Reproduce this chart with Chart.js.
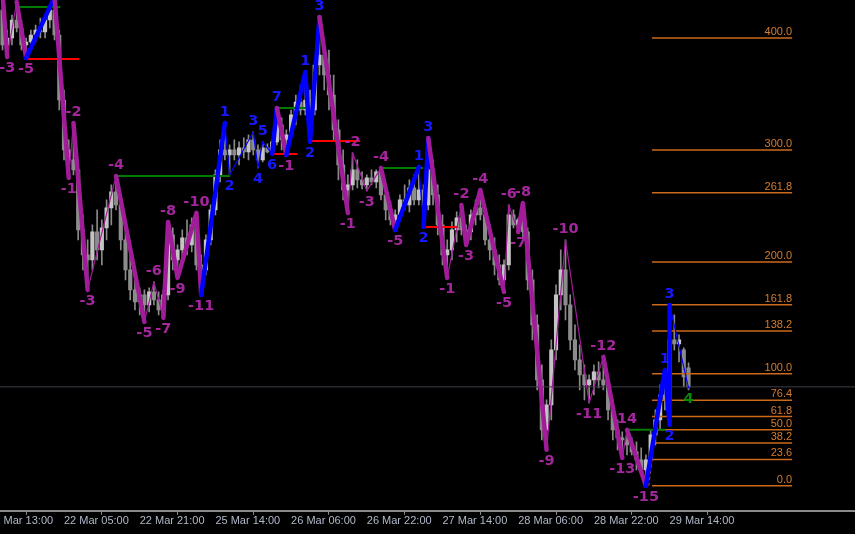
<!DOCTYPE html>
<html>
<head>
<meta charset="utf-8">
<script src="https://cdn.jsdelivr.net/npm/chart.js@4.4.1/dist/chart.umd.min.js"></script>
<style>
html,body{margin:0;padding:0;background:#000;}
#wrap{width:855px;height:534px;}
</style>
</head>
<body>
<div id="wrap"><canvas id="chart" width="855" height="534"></canvas></div>
<script>
// time axis (H1 bars, one label every 16 bars)
const timeLabels = ['21 Mar 13:00','22 Mar 05:00','22 Mar 21:00','25 Mar 14:00','26 Mar 06:00','26 Mar 22:00','27 Mar 14:00','28 Mar 06:00','28 Mar 22:00','29 Mar 14:00'];
const tickBars = [0,16,32,48,64,80,96,112,128,144];

// candles, bar 3 .. 148
const firstBar = 3;
const cOpen = [5290,5255,5262,5280,5272,5255,5258,5265,5270,5268,
  5280,5290,5265,5200,5150,5140,5130,5070,5045,5040,
  5068,5050,5072,5092,5108,5095,5060,5030,5010,4998,
  5005,4995,5008,5000,4990,5005,5065,5040,5050,5062,
  5055,5075,5035,5030,5060,5090,5125,5150,5145,5150,
  5145,5152,5148,5160,5150,5140,5152,5148,5158,5175,
  5160,5165,5185,5198,5190,5200,5190,5235,5245,5225,
  5205,5170,5135,5110,5115,5130,5120,5115,5122,5118,
  5128,5105,5090,5080,5085,5100,5095,5112,5100,5110,
  5095,5130,5105,5075,5045,5050,5070,5082,5070,5068,
  5085,5092,5085,5060,5050,5035,5020,5035,5085,5075,
  5080,5068,5020,4975,4920,4870,4895,4950,5005,5030,
  4995,4960,4940,4925,4915,4920,4928,4920,4915,4890,
  4870,4862,4860,4855,4848,4840,4830,4840,4865,4880,
  4905,4900,4960,4956,4950,4932];
const cHigh = [5308,5270,5285,5298,5280,5262,5270,5275,5282,5285,
  5295,5303,5270,5210,5160,5177,5140,5085,5060,5075,
  5090,5080,5100,5115,5124,5100,5075,5045,5020,5012,
  5010,5012,5018,5008,5010,5078,5072,5055,5070,5080,
  5082,5087,5045,5065,5095,5130,5160,5177,5155,5160,
  5158,5162,5165,5168,5155,5158,5156,5160,5192,5182,
  5170,5190,5205,5215,5228,5210,5240,5283,5260,5250,
  5225,5180,5150,5125,5147,5140,5128,5125,5130,5130,
  5132,5112,5098,5090,5105,5115,5120,5125,5133,5115,
  5162,5140,5115,5085,5060,5078,5088,5095,5075,5090,
  5100,5110,5090,5075,5062,5045,5040,5095,5090,5082,
  5097,5072,5030,4985,4935,4900,4960,5015,5050,5060,
  5005,4975,4955,4935,4925,4935,4938,4943,4925,4900,
  4880,4868,4870,4862,4858,4852,4845,4870,4890,4915,
  4930,4995,4985,4965,4952,4937];
const cLow = [5250,5243,5255,5268,5250,5242,5250,5258,5262,5262,
  5272,5260,5190,5140,5122,5125,5060,5030,5010,5030,
  5040,5035,5060,5075,5090,5050,5020,5000,4990,4985,
  4978,4988,4995,4985,4982,5000,5030,5022,5040,5045,
  5048,5030,5005,5025,5055,5085,5118,5140,5125,5140,
  5135,5142,5140,5145,5132,5138,5147,5146,5155,5150,
  5145,5160,5175,5185,5185,5158,5185,5225,5210,5190,
  5160,5120,5100,5087,5110,5112,5111,5109,5115,5112,
  5100,5080,5075,5070,5080,5090,5088,5095,5095,5073,
  5090,5095,5065,5035,5022,5040,5058,5065,5055,5060,
  5075,5080,5055,5040,5025,5015,5008,5030,5072,5068,
  5062,5010,4960,4910,4860,4850,4880,4940,4990,4980,
  4950,4930,4910,4900,4897,4905,4912,4910,4880,4860,
  4850,4842,4845,4845,4830,4825,4814,4835,4855,4870,
  4890,4875,4950,4938,4913,4910];
const cClose = [5255,5262,5280,5272,5255,5258,5265,5270,5268,5280,
  5290,5265,5200,5150,5140,5130,5070,5045,5040,5068,
  5050,5072,5092,5108,5095,5060,5030,5010,4998,5005,
  4995,5008,5000,4990,5005,5065,5040,5050,5062,5055,
  5075,5035,5030,5060,5090,5125,5150,5145,5150,5145,
  5152,5148,5160,5150,5140,5152,5148,5158,5175,5160,
  5165,5185,5198,5190,5200,5190,5235,5245,5225,5205,
  5170,5135,5110,5115,5130,5120,5115,5122,5118,5128,
  5105,5090,5080,5085,5100,5095,5112,5100,5110,5095,
  5130,5105,5075,5045,5050,5070,5082,5070,5068,5085,
  5092,5085,5060,5050,5035,5020,5035,5085,5075,5080,
  5068,5020,4975,4920,4870,4895,4950,5005,5030,4995,
  4960,4940,4925,4915,4920,4928,4920,4915,4890,4870,
  4862,4860,4855,4848,4840,4830,4840,4865,4880,4905,
  4900,4960,4956,4960,4923,4913];

// zigzag pivots
const zzBar = [3,4,6,8,14,17,18,21,27,33,35,37,38,40,44,45,50,51,56,57,
  58,60,61,63,67,68,70,76,77,80,83,86,91,92,93,97,100,101,104,109,
  110,112,113,118,122,127,130,134,135,139,143,144,144,148];
const zzPrice = [5308,5243,5298,5242,5303,5122,5177,5010,5124,4978,
  5018,4982,5078,5022,5087,5005,5177,5125,5168,5132,
  5158,5146,5192,5145,5228,5158,5283,5087,5147,5109,
  5132,5070,5133,5073,5162,5022,5095,5055,5110,5008,
  5095,5068,5097,4850,5060,4897,4943,4842,4870,4814,
  4930,4875,4995,4912];
const zzText = ['','-3','','-5','','-1','-2','-3','-4','-5','-6','-7','-8','-9','-10','-11',
  '1','2','3','4','5','6','7','-1','1','2','3',
  '-1','-2','-3','-4','-5','1','2','3',
  '-1','-2','-3','-4','-5','-6','-7','-8','-9','-10','-11','-12','-13','14','-15',
  '1','2','3','4'];
const zzTone = ['p','p','p','p','b','p','p','p','p','p','p','p','p','p','p','p',
  'b','b','b','b','b','b','b','p','b','b','b',
  'p','p','p','p','p','b','b','b',
  'p','p','p','p','p','p','p','p','p','p','p','p','p','p','p',
  'b','b','b','g'];
// leg width ending at each pivot: T thick, t thin
const zzLeg = ['','T','t','T','T','T','t','T','t','T','t','t','T','T','T','T',
  'T','t','t','t','t','t','T','T','T','T','T',
  'T','t','t','t','T','T','t','T',
  'T','t','T','T','T','t','t','T','T','t','t','t','T','t','T',
  'T','T','T','t'];

// breakout levels
const hlStart = [6,8,27,60,61,68,83,92,135];
const hlEnd = [15.2,19.2,51.1,65.3,68,78.6,91.9,99.3,143.1];
const hlPrice = [5293,5241,5124,5146,5192,5159,5132,5073,4870];
const hlTone = ['g','r','g','r','g','r','g','r','g'];

// fibonacci
const fibLevels = [0,23.6,38.2,50,61.8,76.4,100,138.2,161.8,200,261.8,300,400];
const fibLow = 4814, fibHigh = 4926;
const fibFrom = 140.3, fibTo = 169.9;
const fibAnchorBars = [139.6,142.6];

const bidPrice = 4913;

const colors = {p:'#a01c98', b:'#0000ff', g:'#007a00', r:'#ff0000'};
const textColors = {p:'#a4269c', b:'#1818ff', g:'#0a8a0a'};
const fibColor = '#cc6a1a';
const fibTextColor = '#d67c2c';

const fibPrice = l => fibLow + (fibHigh - fibLow) * l / 100;
const isHigh = i => i > 0 ? zzPrice[i] > zzPrice[i-1] : zzPrice[i] > zzPrice[i+1];

const wickData = cHigh.map((h,i)=>({x:firstBar+i, y:[cLow[i], h]}));
const bodyData = cOpen.map((o,i)=>({x:firstBar+i, y:[o, cClose[i]]}));
const bodyColors = cOpen.map((o,i)=> cClose[i] >= o ? '#c4c4c4' : '#8c8c8c');

const datasets = [];
datasets.push({type:'bar', data:wickData, backgroundColor:'#8a8a8a', barThickness:1, grouped:false, order:10});
datasets.push({type:'bar', data:bodyData, backgroundColor:bodyColors, barThickness:3.5, minBarLength:1, grouped:false, order:9});
datasets.push({type:'line', data:[{x:2,y:bidPrice},{x:184,y:bidPrice}], borderColor:'#3e3e4a', borderWidth:1, pointRadius:0, order:8});
fibLevels.forEach(l=>{
  datasets.push({type:'line', data:[{x:fibFrom,y:fibPrice(l)},{x:fibTo,y:fibPrice(l)}], borderColor:fibColor, borderWidth:1.5, pointRadius:0, order:7});
});
hlPrice.forEach((p,i)=>{
  datasets.push({type:'line', data:[{x:hlStart[i],y:p},{x:hlEnd[i],y:p}], borderColor:colors[hlTone[i]], borderWidth:2, pointRadius:0, order:6});
});
datasets.push({type:'line', data:[{x:fibAnchorBars[0],y:fibLow},{x:fibAnchorBars[1],y:fibHigh}], borderColor:fibColor, borderWidth:1, borderDash:[3,3], pointRadius:0, order:5});
datasets.push({
  type:'line', order:1,
  data: zzBar.map((b,i)=>({x:b, y:zzPrice[i]})),
  borderColor: colors.p, borderWidth: 4.5, pointRadius:0, tension:0,
  borderCapStyle:'round', borderJoinStyle:'round',
  segment:{
    borderColor: c => zzTone[c.p1DataIndex] === 'p' ? colors.p : colors.b,
    borderWidth: c => zzLeg[c.p1DataIndex] === 'T' ? 4.5 : 1.2
  }
});

const overlay = {
  id:'overlay',
  afterDatasetsDraw(chart){
    const {ctx, chartArea:a, scales:{x, y}} = chart;
    ctx.save();
    ctx.beginPath(); ctx.rect(a.left, a.top, a.right - a.left, a.bottom - a.top); ctx.clip();
    ctx.font = '11px "Liberation Sans", Arial, sans-serif';
    ctx.textAlign = 'right'; ctx.textBaseline = 'alphabetic';
    ctx.fillStyle = fibTextColor;
    fibLevels.forEach(l=>{
      ctx.fillText(l.toFixed(1), x.getPixelForValue(fibTo), y.getPixelForValue(fibPrice(l)) - 3);
    });
    ctx.font = 'bold 14.5px "DejaVu Sans", sans-serif';
    ctx.textAlign = 'center'; ctx.textBaseline = 'middle';
    zzText.forEach((t,i)=>{
      if(!t) return;
      const px = x.getPixelForValue(zzBar[i]);
      const py = y.getPixelForValue(zzPrice[i]) + (isHigh(i) ? -11 : 11);
      ctx.fillStyle = textColors[zzTone[i]];
      ctx.fillText(t, px, py);
    });
    ctx.restore();
  }
};

new Chart(document.getElementById('chart'), {
  type:'line',
  data:{datasets},
  options:{
    responsive:false, animation:false, devicePixelRatio:1, events:[],
    layout:{padding:{left:0,right:0,top:0,bottom:6}},
    plugins:{legend:{display:false}, tooltip:{enabled:false}},
    scales:{
      x:{
        type:'linear', min:2.473, max:183.19, offset:false,
        afterBuildTicks: s => { s.ticks = tickBars.map(v=>({value:v})); },
        afterFit: s => { s.paddingLeft = 0; s.paddingRight = 0; },
        grid:{display:true, drawOnChartArea:false, drawTicks:true, tickLength:4, color:'#8a8a8a', lineWidth:1},
        border:{display:true, color:'#8a8a8a', width:2},
        ticks:{autoSkip:false, maxRotation:0, minRotation:0, align:'start', labelOffset:0, padding:0,
          color:'#b0b8c8', font:{family:'"Liberation Sans", Arial, sans-serif', size:11},
          callback:(v,i)=>timeLabels[i]}
      },
      y:{type:'linear', display:false, min:4789, max:5300}
    }
  },
  plugins:[overlay]
});
</script>
</body>
</html>
